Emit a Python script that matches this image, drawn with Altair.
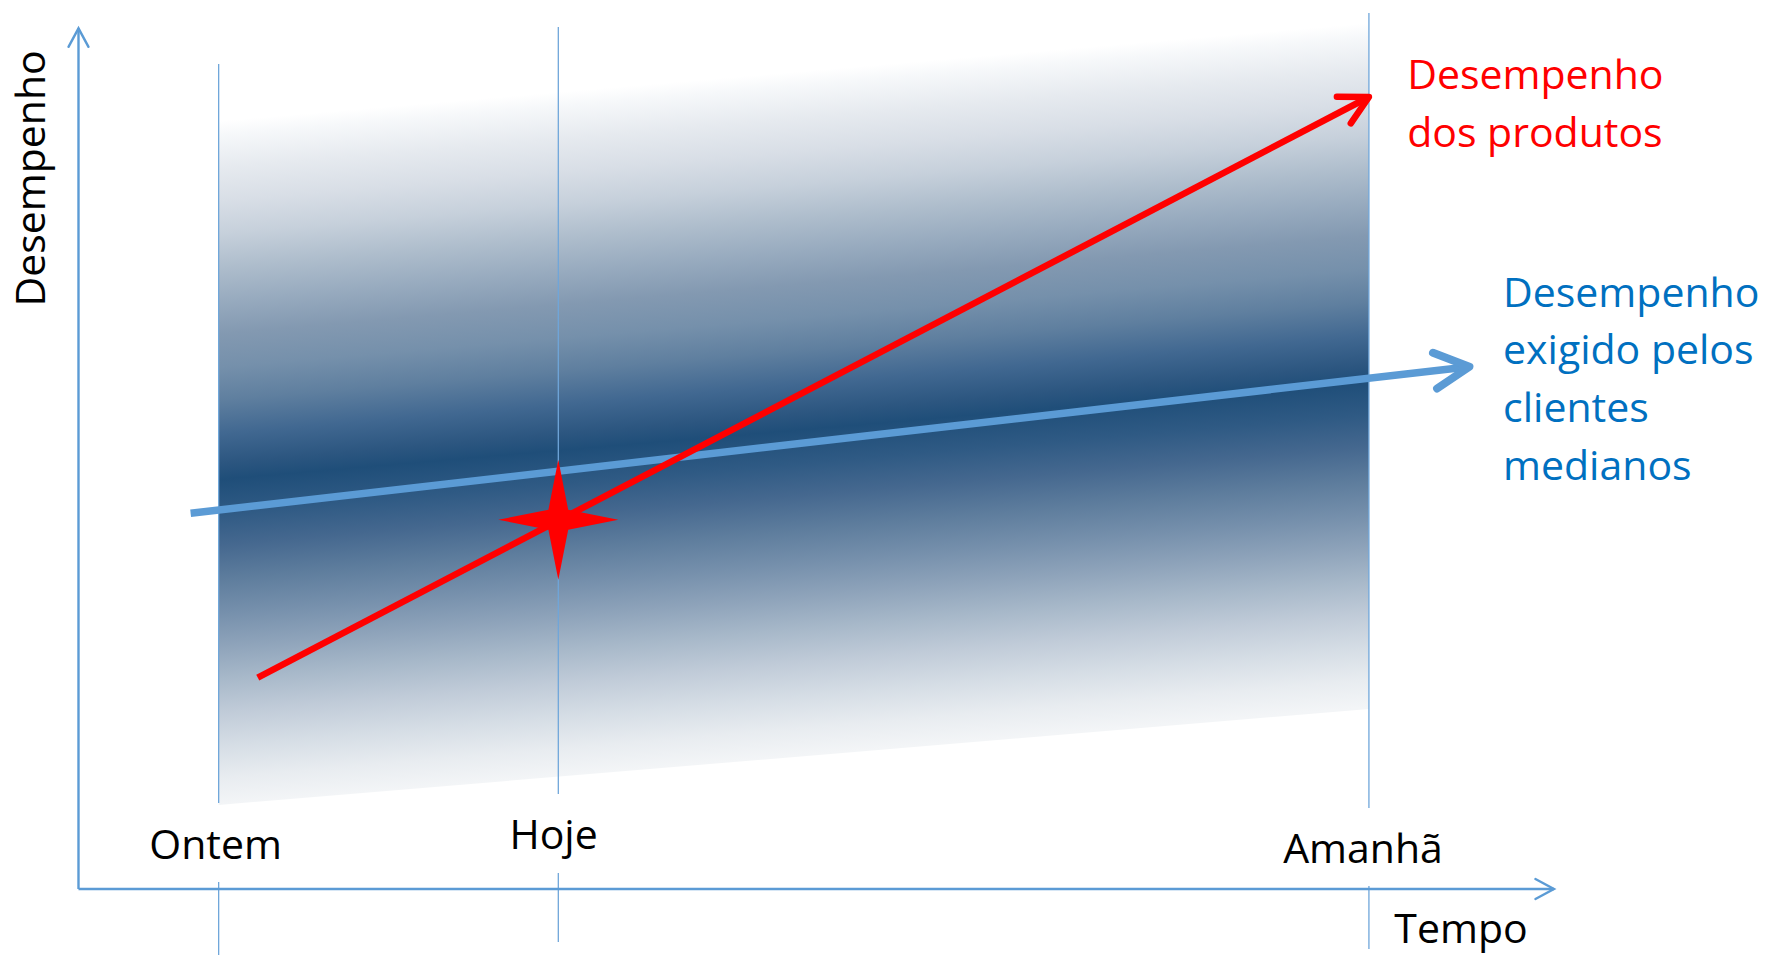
import math
import altair as alt
import pandas as pd

# ---- conceptual coordinate system: Tempo (x) and Desempenho (y), both 0..100 along the arrows
x_domain = [-5.32, 114.44]
y_domain = [-7.67, 103.29]
W, H = 1767, 955

# time markers
time_labels = ["Ontem", "Hoje", "Amanhã"]
time_pos = [9.5, 32.52, 87.46]
label_x = [9.29, 32.2, 87.06]
label_y = [3.49, 4.61, 3.06]

# vertical guide segments (above and below the time axis)
guide_upper_top = [95.85, 100.15, 101.78]
guide_upper_bottom = [9.99, 11.04, 9.41]
guide_lower_top = [0.81, 1.86, 0.35]
guide_lower_bottom = [-7.67, -6.16, -6.97]

# shaded band of customer demand
band_x = [9.5, 87.46]
band_top = [89.23, 100.62]
band_bottom = [9.76, 20.91]

# Desempenho exigido pelos clientes medianos (blue)
blue_x = [7.6, 94.27]
blue_y = [43.65, 60.68]
# Desempenho dos produtos (red)
red_x = [12.15, 87.46]
red_y = [24.55, 92.02]

# star at "Hoje"
star_x = [32.52]
star_y = [42.9]

# text
red_text = "Desempenho\ndos produtos"
blue_text = "Desempenho\nexigido pelos\nclientes\nmedianos"
red_text_pos = (90.05, 92.91)
blue_text_pos = (96.55, 67.65)
x_title = ("Tempo", 93.7, -6.31)
y_title = ("Desempenho", -2.27, 82.56)

FONT = "Open Sans"
FS = 41
AXIS_BLUE = "#5B9BD5"
LINE_BLUE = "#5B9BD5"
TEXT_BLUE = "#0070C0"
RED = "#FF0000"

px_x = W / (x_domain[1] - x_domain[0])
px_y = H / (y_domain[1] - y_domain[0])


def heading(xs, ys):
    dx = (xs[1] - xs[0]) * px_x
    dy = -(ys[1] - ys[0]) * px_y
    return math.degrees(math.atan2(dy, dx)) % 360


xs = alt.Scale(domain=x_domain, nice=False, zero=False)
ys = alt.Scale(domain=y_domain, nice=False, zero=False)


def X(f="x"):
    return alt.X(f"{f}:Q", scale=xs, axis=None)


def Y(f="y"):
    return alt.Y(f"{f}:Q", scale=ys, axis=None)


# band with slanted gradient
band_df = pd.DataFrame({"x": band_x, "y": band_top, "y2": band_bottom})
stops = [
    (0.00, "#ffffff"), (0.02, "#f6f8fa"), (0.068, "#e6eaef"), (0.117, "#d8dee6"),
    (0.165, "#c6d0db"), (0.214, "#aebdcc"), (0.262, "#98abbf"), (0.311, "#8399b1"),
    (0.36, "#7590ab"), (0.408, "#5f7f9f"), (0.457, "#416891"), (0.50, "#2c5680"),
    (0.524, "#1f4e79"), (0.573, "#2f5a84"), (0.62, "#45688f"), (0.67, "#5e7d9d"),
    (0.72, "#7690ac"), (0.767, "#8ea3ba"), (0.815, "#a7b8c9"), (0.864, "#c0cbd8"),
    (0.913, "#d5dde5"), (0.96, "#e8ecf0"), (1.00, "#f3f5f7"),
]
grad = alt.Gradient(
    gradient="linear",
    stops=[alt.GradientStop(color=c, offset=o) for o, c in stops],
    x1=0, y1=0.1253, x2=0.1079, y2=0.9865,
)
band = alt.Chart(band_df).mark_area(color=grad, opacity=1).encode(
    x=X(), y=Y(), y2=alt.Y2("y2:Q")
)

# guides
guides_df = pd.DataFrame({
    "x": time_pos * 2,
    "y": guide_upper_top + guide_lower_top,
    "y2": guide_upper_bottom + guide_lower_bottom,
})
guides = alt.Chart(guides_df).mark_rule(color="#6fa6da", strokeWidth=1.3).encode(
    x=X(), y=Y(), y2=alt.Y2("y2:Q")
)

# axes
axes_df = pd.DataFrame({"x": [0, 0], "y": [0, 0], "x2": [100, 0], "y2": [0, 100]})
axes = alt.Chart(axes_df).mark_rule(color=AXIS_BLUE, strokeWidth=2.4).encode(
    x=X(), y=Y(), x2=alt.X2("x2:Q"), y2=alt.Y2("y2:Q")
)
axes_tips = pd.DataFrame({"x": [100, 0], "y": [0, 100], "angle": [0, 270]})
CHEV = "M -1 -0.54 L 0 0 L -1 0.54"
axes_heads = alt.Chart(axes_tips).mark_point(
    shape=CHEV, size=1369, filled=False, color=AXIS_BLUE, strokeWidth=2.4,
    opacity=1, strokeCap="round", strokeJoin="miter"
).encode(x=X(), y=Y(), angle=alt.Angle("angle:Q", scale=None))

# blue line + head
blue_df = pd.DataFrame({"x": blue_x, "y": blue_y})
blue_line = alt.Chart(blue_df).mark_line(color=LINE_BLUE, strokeWidth=7.5, strokeCap="butt").encode(
    x=X(), y=Y()
)
blue_head_df = pd.DataFrame({"x": [blue_x[1]], "y": [blue_y[1]], "angle": [heading(blue_x, blue_y)]})
blue_head = alt.Chart(blue_head_df).mark_point(
    shape="M -1 -0.52 L 0 0 L -1 0.52", size=4789, filled=False, color=LINE_BLUE,
    strokeWidth=8, opacity=1, strokeCap="round", strokeJoin="round"
).encode(x=X(), y=Y(), angle=alt.Angle("angle:Q", scale=None))

# red line + head
red_df = pd.DataFrame({"x": red_x, "y": red_y})
red_line = alt.Chart(red_df).mark_line(color=RED, strokeWidth=6.5, strokeCap="butt").encode(
    x=X(), y=Y()
)
red_head_df = pd.DataFrame({"x": [red_x[1]], "y": [red_y[1]], "angle": [heading(red_x, red_y)]})
red_head = alt.Chart(red_head_df).mark_point(
    shape="M -1 -0.53 L 0 0 L -1 0.53", size=3204, filled=False, color=RED,
    strokeWidth=6.5, opacity=1, strokeCap="round", strokeJoin="round"
).encode(x=X(), y=Y(), angle=alt.Angle("angle:Q", scale=None))

# star
STAR = ("M 0 -1 L 0.165 -0.165 L 1 0 L 0.165 0.165 L 0 1 "
        "L -0.165 0.165 L -1 0 L -0.165 -0.165 Z")
star_df = pd.DataFrame({"x": star_x, "y": star_y})
star = alt.Chart(star_df).mark_point(
    shape=STAR, size=14400, filled=True, color=RED, opacity=1, strokeWidth=0
).encode(x=X(), y=Y())

# time labels
tl_df = pd.DataFrame({"x": label_x, "y": label_y, "t": time_labels})
time_text = alt.Chart(tl_df).mark_text(
    font=FONT, fontSize=FS, color="black", align="center", baseline="alphabetic"
).encode(x=X(), y=Y(), text="t:N")

xt_df = pd.DataFrame({"x": [x_title[1]], "y": [x_title[2]], "t": [x_title[0]]})
x_title_text = alt.Chart(xt_df).mark_text(
    font=FONT, fontSize=FS, color="black", align="center", baseline="alphabetic"
).encode(x=X(), y=Y(), text="t:N")

yt_df = pd.DataFrame({"x": [y_title[1]], "y": [y_title[2]], "t": [y_title[0]]})
y_title_text = alt.Chart(yt_df).mark_text(
    font=FONT, fontSize=FS, color="black", align="center", baseline="alphabetic", angle=270
).encode(x=X(), y=Y(), text="t:N")

rt_df = pd.DataFrame({"x": [red_text_pos[0]], "y": [red_text_pos[1]], "t": [red_text]})
red_label = alt.Chart(rt_df).mark_text(
    font=FONT, fontSize=FS, color=RED, align="left", baseline="alphabetic",
    lineBreak="\n", lineHeight=57.5
).encode(x=X(), y=Y(), text="t:N")

bt_df = pd.DataFrame({"x": [blue_text_pos[0]], "y": [blue_text_pos[1]], "t": [blue_text]})
blue_label = alt.Chart(bt_df).mark_text(
    font=FONT, fontSize=FS, color=TEXT_BLUE, align="left", baseline="alphabetic",
    lineBreak="\n", lineHeight=57.7
).encode(x=X(), y=Y(), text="t:N")

chart = alt.layer(
    band, guides, blue_line, blue_head, red_line, red_head, star,
    axes, axes_heads, time_text, x_title_text, y_title_text, red_label, blue_label
).properties(
    width=W, height=H, padding=0, background="white",
    autosize=alt.AutoSizeParams(type="none"),
).configure_view(stroke=None)

chart.save("out.html", embed_options={"renderer": "svg", "actions": False})
